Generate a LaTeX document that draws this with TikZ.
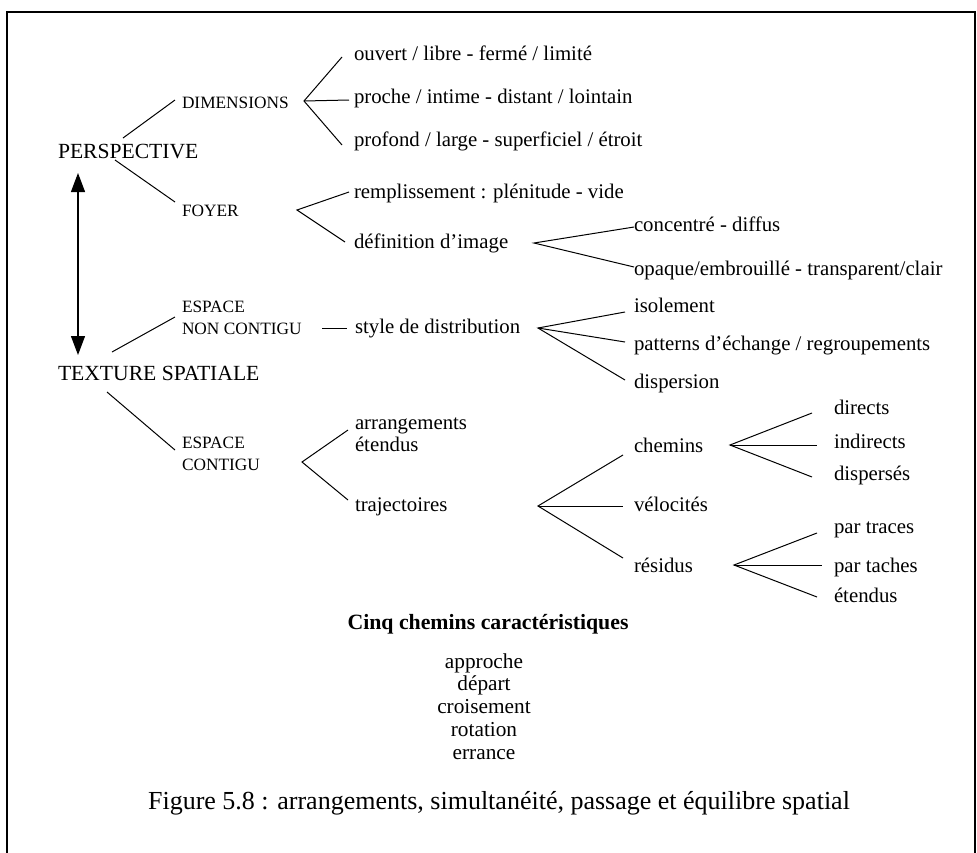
\documentclass[tikz,border=0pt]{standalone}
\usepackage{fontspec}
\setmainfont{Liberation Serif}
\usetikzlibrary{calc,arrows.meta}
\begin{document}
\begin{tikzpicture}[x=1pt,y=-1pt,
  txt/.style={anchor=west,inner sep=0pt,outer sep=0pt,font=\fontsize{20.8}{22}\selectfont,text height=14pt,text depth=4pt},
  capsmall/.style={anchor=west,inner sep=0pt,outer sep=0pt,font=\fontsize{17.3}{22}\selectfont},
  capbig/.style={anchor=west,inner sep=0pt,outer sep=0pt,font=\fontsize{21.6}{22}\selectfont,text height=14.3pt,text depth=0pt},
  multi/.style={anchor=west,inner sep=0pt,outer sep=0pt,font=\fontsize{20.8}{22}\selectfont},
  link/.style={line width=1pt,black},
  frame/.style={line width=2pt,black}]
\useasboundingbox (0,0) rectangle (977,852);
\fill[white] (0,0) rectangle (977,852);
\draw[frame] (7,853) -- (7,12) -- (975,12) -- (975,853);

% main labels
\node[capbig] (persp) at (58,151) {PERSPECTIVE};
\node[capbig] (tex) at (58,373) {TEXTURE SPATIALE};
\node[capsmall,text height=12pt,text depth=0pt] (dim) at (182,102) {DIMENSIONS};
\node[capsmall,text height=12pt,text depth=0pt] (foyer) at (182,210) {FOYER};
\node[capsmall] (enc) at (182,319) {\begin{tabular}{@{}l@{}}ESPACE\\NON CONTIGU\end{tabular}};
\node[capsmall] (ec) at (182,455) {\begin{tabular}{@{}l@{}}ESPACE\\CONTIGU\end{tabular}};

% dimensions
\node[txt] (o1) at (354,55) {ouvert / libre - fermé / limité};
\node[txt] (o2) at (354,98) {proche / intime - distant / lointain};
\node[txt] (o3) at (354,141) {profond / large - superficiel / étroit};
% foyer
\node[txt] (f1) at (354,193) {remplissement : plénitude - vide};
\node[txt] (f2) at (354,243) {définition d’image};
\node[txt] (d1) at (634,226) {concentré - diffus};
\node[txt] (d2) at (634,270) {opaque/embrouillé - transparent/clair};
% espace non contigu
\node[txt] (sd) at (355,328) {style de distribution};
\node[txt] (i1) at (634,307) {isolement};
\node[txt] (i2) at (634,345) {patterns d’échange / regroupements};
\node[txt] (i3) at (634,383) {dispersion};
% espace contigu
\node[multi] (arr) at (355,436) {\begin{tabular}{@{}l@{}}arrangements\\étendus\end{tabular}};
\node[txt] (traj) at (355,506) {trajectoires};
\node[txt] (ch) at (634,447) {chemins};
\node[txt] (vel) at (634,506) {vélocités};
\node[txt] (res) at (634,567) {résidus};
\node[txt] (c1) at (834,409) {directs};
\node[txt] (c2) at (834,443) {indirects};
\node[txt] (c3) at (834,475) {dispersés};
\node[txt] (r1) at (834,528) {par traces};
\node[txt] (r2) at (834,567) {par taches};
\node[txt] (r3) at (834,597) {étendus};

% bottom
\node[inner sep=0pt,font=\fontsize{21.8}{22}\bfseries\selectfont,text height=15pt,text depth=4pt] (cinq) at (488,624) {Cinq chemins caractéristiques};
\node[inner sep=0pt,font=\fontsize{21.3}{22.75}\selectfont] (list) at (484,709) {\begin{tabular}{@{}c@{}}approche\\départ\\croisement\\rotation\\errance\end{tabular}};
\node[inner sep=0pt,font=\fontsize{26}{28}\selectfont,text height=17pt,text depth=5pt] (cap) at (499,803) {Figure 5.8 : arrangements, simultanéité, passage et équilibre spatial};

% fan vertices
\coordinate (vDim) at (304,101);
\coordinate (vFoy) at (297,210);
\coordinate (vDef) at (534,243);
\coordinate (vSd) at (538,328);
\coordinate (vEc) at (302,462);
\coordinate (vTraj) at (538,506);
\coordinate (vCh) at (730,445);
\coordinate (vRes) at (734,565);

% arrow
\draw[line width=1.2pt,{Triangle[length=19pt,width=14pt]}-{Triangle[length=19pt,width=14pt]}]
  ($(persp.west)+(20,22)$) -- ($(tex.west)+(20,-18)$);

% main branches
\draw[link] ($(persp.west)+(65,-13)$) -- ($(dim.west)+(-7,-2)$);
\draw[link] ($(persp.west)+(57,9)$) -- ($(foyer.west)+(-7,-8)$);
\draw[link] ($(tex.west)+(54,-21)$) -- ($(enc.west)+(-7,-2)$);
\draw[link] ($(tex.west)+(49,19)$) -- ($(ec.west)+(-7,-5)$);
\draw[link] ($(sd.west)+(-33,0)$) -- ($(sd.west)+(-8,0)$);

% fans
\draw[link] ($(o1.west)+(-12,2)$) -- (vDim) -- ($(o3.west)+(-12,4)$);
\draw[link] (vDim) -- ($(o2.west)+(-5,2)$);
\draw[link] ($(f1.west)+(-5,-1)$) -- (vFoy) -- ($(f2.west)+(-9,-1)$);
\draw[link] ($(d1.west)+(0,1)$) -- (vDef) -- ($(d2.west)+(0,-3)$);
\draw[link] ($(i1.west)+(-9,5)$) -- (vSd) -- ($(i3.west)+(-9,-3)$);
\draw[link] (vSd) -- ($(i2.west)+(-9,-3)$);
\draw[link] ($(arr.west)+(-7,-6)$) -- (vEc) -- ($(traj.west)+(-7,-6)$);
\draw[link] ($(ch.west)+(-11,8)$) -- (vTraj) -- ($(res.west)+(-11,-9)$);
\draw[link] (vTraj) -- ($(vel.west)+(-11,0)$);
\draw[link] ($(c1.west)+(-22,4)$) -- (vCh) -- ($(c3.west)+(-22,2)$);
\draw[link] (vCh) -- ($(c2.west)+(-17,2)$);
\draw[link] ($(r1.west)+(-17,5)$) -- (vRes) -- ($(r3.west)+(-17,0)$);
\draw[link] (vRes) -- ($(r2.west)+(-12,-2)$);
\end{tikzpicture}
\end{document}
